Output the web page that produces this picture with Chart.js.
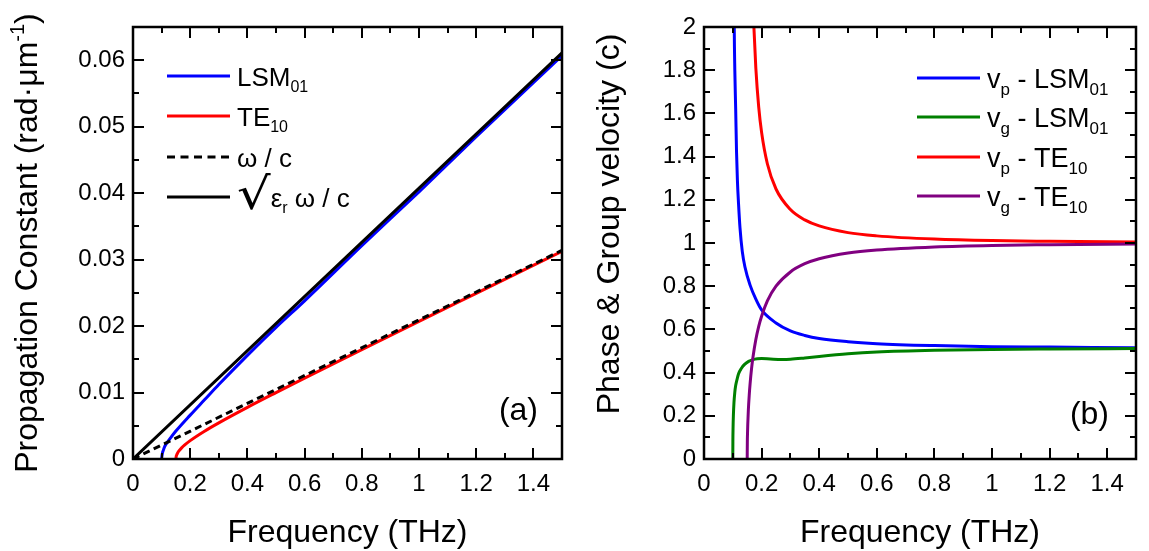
<!DOCTYPE html>
<html>
<head>
<meta charset="utf-8">
<script src="https://cdn.jsdelivr.net/npm/chart.js@4.4.0/dist/chart.umd.min.js"></script>
<style>
  body { margin: 0; background: #fff; width: 1149px; height: 551px; overflow: hidden; position: relative; }
  #chartA { position: absolute; left: 0; top: 0; width: 580px; height: 551px; }
  #chartB { position: absolute; left: 580px; top: 0; width: 569px; height: 551px; }
</style>
</head>
<body>
<canvas id="chartA" width="580" height="551"></canvas>
<canvas id="chartB" width="569" height="551"></canvas>
<script>
    const FONT = '"Liberation Sans", Arial, sans-serif';

    // Frequency axis (THz), same for both panels
    const xTicks = [0, 0.2, 0.4, 0.6, 0.8, 1.0, 1.2, 1.4];
    const xTickLabels = ['0', '0.2', '0.4', '0.6', '0.8', '1', '1.2', '1.4'];
    const xMinor = [0.1, 0.3, 0.5, 0.7, 0.9, 1.1, 1.3];

    // (a) Propagation constant (rad/um)
    const betaTicks = [0, 0.01, 0.02, 0.03, 0.04, 0.05, 0.06];
    const betaTickLabels = ['0', '0.01', '0.02', '0.03', '0.04', '0.05', '0.06'];
    const betaMinor = [0.005, 0.015, 0.025, 0.035, 0.045, 0.055];

    const freqLSM = [0.1, 0.101, 0.103, 0.106, 0.11, 0.12, 0.13, 0.15, 0.2, 0.25, 0.3, 0.4, 0.5, 0.6, 0.8, 1.0, 1.2, 1.5];
    const betaLSM = [0, 0.0004, 0.0009, 0.0013, 0.0018, 0.0025, 0.0031, 0.0042, 0.0066, 0.0089, 0.0112, 0.0156, 0.0198, 0.0238, 0.0321, 0.0402, 0.0485, 0.0607];

    const freqTE = [0.15, 0.151, 0.153, 0.156, 0.16, 0.17, 0.18, 0.2, 0.25, 0.3, 0.4, 0.5, 0.6, 0.8, 1.0, 1.2, 1.5];
    const betaTE = [0, 0.00036, 0.00063, 0.0009, 0.00117, 0.00167, 0.00208, 0.00277, 0.00419, 0.00544, 0.00777, 0.00999, 0.01217, 0.01646, 0.02071, 0.02493, 0.03126];

    const freqAir = [0, 1.5];
    const betaAir = [0, 0.0314];

    const freqDiel = [0, 1.5];
    const betaDiel = [0, 0.0611];

    // (b) Phase & group velocity (units of c)
    const velTicks = [0, 0.2, 0.4, 0.6, 0.8, 1.0, 1.2, 1.4, 1.6, 1.8, 2.0];
    const velTickLabels = ['0', '0.2', '0.4', '0.6', '0.8', '1', '1.2', '1.4', '1.6', '1.8', '2'];
    const velMinor = [0.1, 0.3, 0.5, 0.7, 0.9, 1.1, 1.3, 1.5, 1.7, 1.9];

    const freqVpLSM = [0.103, 0.105, 0.107, 0.11, 0.113, 0.116, 0.12, 0.125, 0.133, 0.142, 0.16, 0.18, 0.2, 0.25, 0.3, 0.35, 0.4, 0.5, 0.6, 0.8, 1.0, 1.2, 1.5];
    const vpLSM = [2.5, 2.0, 1.8, 1.62, 1.42, 1.29, 1.18, 1.07, 0.96, 0.89, 0.805, 0.74, 0.69, 0.63, 0.593, 0.572, 0.558, 0.543, 0.534, 0.525, 0.52, 0.518, 0.515];

    const freqVgLSM = [0.1, 0.1003, 0.101, 0.102, 0.104, 0.107, 0.11, 0.115, 0.12, 0.13, 0.14, 0.155, 0.17, 0.185, 0.2, 0.23, 0.27, 0.3, 0.35, 0.4, 0.5, 0.6, 0.8, 1.0, 1.2, 1.5];
    const vgLSM = [0, 0.08, 0.15, 0.2, 0.26, 0.31, 0.34, 0.37, 0.395, 0.42, 0.437, 0.452, 0.46, 0.464, 0.465, 0.463, 0.461, 0.462, 0.468, 0.475, 0.487, 0.495, 0.503, 0.507, 0.509, 0.511];

    const freqVpTE = [0.165, 0.17, 0.173, 0.18, 0.19, 0.2, 0.22, 0.25, 0.3, 0.35, 0.4, 0.5, 0.6, 0.8, 1.0, 1.2, 1.5];
    const vpTE = [2.4, 2.125, 2.007, 1.809, 1.629, 1.512, 1.367, 1.25, 1.155, 1.107, 1.079, 1.048, 1.033, 1.018, 1.011, 1.008, 1.005];

    const freqVgTE = [0.15, 0.1505, 0.151, 0.152, 0.154, 0.157, 0.16, 0.165, 0.17, 0.18, 0.19, 0.2, 0.22, 0.25, 0.3, 0.35, 0.4, 0.5, 0.6, 0.8, 1.0, 1.2, 1.5];
    const vgTE = [0, 0.081, 0.115, 0.162, 0.227, 0.295, 0.348, 0.417, 0.471, 0.553, 0.614, 0.661, 0.732, 0.8, 0.866, 0.904, 0.927, 0.954, 0.968, 0.982, 0.989, 0.992, 0.995];

    function pts(xs, ys) {
    return xs.map((x, i) => ({ x: x, y: ys[i] }));
}

    function lineSet(label, xs, ys, color, order, dash) {
    return {
    label: label,
    data: pts(xs, ys),
    borderColor: color,
    backgroundColor: color,
    borderWidth: 3,
    borderDash: dash || [],
    pointRadius: 0,
    cubicInterpolationMode: 'monotone',
    order: order
};
}

    // Draw a run of text pieces: [text, size, dy, scaleX, family]
    function drawParts(ctx, parts, x, y, align) {
    let total = 0;
    parts.forEach(p => {
    ctx.font = p[1] + 'px ' + (p[4] || FONT);
    total += ctx.measureText(p[0]).width * (p[3] || 1);
});
    let cx = align === 'center' ? x - total / 2 : (align === 'right' ? x - total : x);
    parts.forEach(p => {
    ctx.font = p[1] + 'px ' + (p[4] || FONT);
    const w = ctx.measureText(p[0]).width * (p[3] || 1);
    ctx.save();
    ctx.translate(cx, y + (p[2] || 0));
    ctx.scale(p[3] || 1, 1);
    ctx.fillText(p[0], 0, 0);
    ctx.restore();
    cx += w;
});
}

    // Frame with inward ticks on all four sides
    function framePlugin(yMajor, yMinor) {
    return {
    id: 'frame',
    afterDatasetsDraw(chart) {
    const { ctx, chartArea: a, scales } = chart;
    const sx = scales.x, sy = scales.y;
    ctx.save();
    ctx.strokeStyle = '#000';
    ctx.lineWidth = 2;
    ctx.beginPath();
    const vTicks = (vals, len) => vals.forEach(v => {
    const px = Math.round(sx.getPixelForValue(v));
    ctx.moveTo(px, a.bottom); ctx.lineTo(px, a.bottom - len);
    ctx.moveTo(px, a.top); ctx.lineTo(px, a.top + len);
});
    const hTicks = (vals, len) => vals.forEach(v => {
    const py = Math.round(sy.getPixelForValue(v));
    ctx.moveTo(a.left, py); ctx.lineTo(a.left + len, py);
    ctx.moveTo(a.right, py); ctx.lineTo(a.right - len, py);
});
    vTicks(xTicks, 11);
    vTicks(xMinor, 6);
    hTicks(yMajor, 11);
    hTicks(yMinor, 6);
    ctx.stroke();
    ctx.lineWidth = 2.5;
    ctx.strokeRect(a.left, a.top, a.right - a.left, a.bottom - a.top);
    ctx.restore();
}
};
}

    function overlayPlugin(draw) {
    return {
    id: 'overlay',
    afterDraw(chart) {
    const ctx = chart.ctx;
    ctx.save();
    ctx.fillStyle = '#000';
    ctx.textBaseline = 'alphabetic';
    ctx.textAlign = 'left';
    draw(chart, ctx);
    ctx.restore();
}
};
}

    function drawLegend(ctx, items, x0, x1, tx, rows) {
    items.forEach((it, i) => {
    const y = rows[i];
    ctx.save();
    ctx.strokeStyle = it.color;
    ctx.lineWidth = 3;
    ctx.setLineDash(it.dash || []);
    ctx.beginPath();
    ctx.moveTo(x0, y);
    ctx.lineTo(x1, y);
    ctx.stroke();
    ctx.restore();
    drawParts(ctx, it.parts, tx, y + 9.5, 'left');
});
}

    function makeScales(yMax, yTicks, yLabels, yWidth) {
    return {
    x: {
    type: 'linear',
    min: 0,
    max: 1.5,
    afterBuildTicks: s => { s.ticks = xTicks.map(v => ({ value: v })); },
    afterFit: s => { s.height = 92; },
    grid: { display: false, drawTicks: false },
    border: { display: false },
    ticks: {
    padding: 11,
    autoSkip: false,
    maxRotation: 0,
    color: '#000',
    font: { size: 24, family: FONT },
    callback: (v, i) => xTickLabels[i]
}
},
    y: {
    type: 'linear',
    min: 0,
    max: yMax,
    afterBuildTicks: s => { s.ticks = yTicks.map(v => ({ value: v })); },
    afterFit: s => { s.width = yWidth; },
    grid: { display: false, drawTicks: false },
    border: { display: false },
    ticks: {
    padding: 8,
    autoSkip: false,
    color: '#000',
    font: { size: 24, family: FONT },
    callback: (v, i) => yLabels[i]
}
}
};
}

    const baseOptions = (scales, padRight) => ({
    responsive: false,
    animation: false,
    layout: { padding: { left: 0, right: padRight, top: 27, bottom: 0 } },
    plugins: { legend: { display: false }, tooltip: { enabled: false } },
    scales: scales
});

    // Panel (a)
    new Chart(document.getElementById('chartA'), {
    type: 'line',
    data: {
    datasets: [
    lineSet('LSM01', freqLSM, betaLSM, '#0000ff', 4),
    lineSet('TE10', freqTE, betaTE, '#ff0000', 3),
    lineSet('w/c', freqAir, betaAir, '#000000', 2, [7, 4.5]),
    lineSet('sqrt(er) w/c', freqDiel, betaDiel, '#000000', 1)
    ]
},
    options: baseOptions(makeScales(0.065, betaTicks, betaTickLabels, 133), 18),
    plugins: [
    framePlugin(betaTicks, betaMinor),
    overlayPlugin((chart, ctx) => {
    const a = chart.chartArea;
    drawLegend(ctx, [
    { color: '#0000ff', parts: [['LSM', 26], ['01', 16, 6.5]] },
    { color: '#ff0000', parts: [['TE', 26], ['10', 16, 6.5]] },
    { color: '#000000', dash: [8, 5.5], parts: [['\u03c9 / c', 26]] },
    { color: '#000000', parts: [['\u221a', 44, 2, 1.2, '"DejaVu Sans", sans-serif'], ['\u03b5', 26], ['r', 16, 6], [' \u03c9 / c', 26]] }
    ], 167, 230, 237, [76, 116, 157, 197]);

    drawParts(ctx, [['(a)', 32]], 538, 420, 'right');
    drawParts(ctx, [['Frequency (THz)', 32]], (a.left + a.right) / 2, 542, 'center');

    ctx.save();
    ctx.translate(37, 243);
    ctx.rotate(-Math.PI / 2);
    drawParts(ctx, [['Propagation Constant (rad\u00b7\u03bcm', 32], ['-1', 20, -13], [')', 32]], 0, 0, 'center');
    ctx.restore();
})
    ]
});

    // Panel (b)
    new Chart(document.getElementById('chartB'), {
    type: 'line',
    data: {
    datasets: [
    lineSet('vp - LSM01', freqVpLSM, vpLSM, '#0000ff', 4),
    lineSet('vg - LSM01', freqVgLSM, vgLSM, '#008000', 3),
    lineSet('vp - TE10', freqVpTE, vpTE, '#ff0000', 2),
    lineSet('vg - TE10', freqVgTE, vgTE, '#800080', 1)
    ]
},
    options: baseOptions(makeScales(2, velTicks, velTickLabels, 124), 13),
    plugins: [
    framePlugin(velTicks, velMinor),
    overlayPlugin((chart, ctx) => {
    const a = chart.chartArea;
    drawLegend(ctx, [
    { color: '#0000ff', parts: [['v', 27], ['p', 17, 7], [' - LSM', 27], ['01', 17, 7]] },
    { color: '#008000', parts: [['v', 27], ['g', 17, 7], [' - LSM', 27], ['01', 17, 7]] },
    { color: '#ff0000', parts: [['v', 27], ['p', 17, 7], [' - TE', 27], ['10', 17, 7]] },
    { color: '#800080', parts: [['v', 27], ['g', 17, 7], [' - TE', 27], ['10', 17, 7]] }
    ], 337, 400, 407, [78, 117, 157, 196]);

    drawParts(ctx, [['(b)', 32]], 529, 424, 'right');
    drawParts(ctx, [['Frequency (THz)', 32]], (a.left + a.right) / 2, 542, 'center');

    ctx.save();
    ctx.translate(39, 224);
    ctx.rotate(-Math.PI / 2);
    drawParts(ctx, [['Phase & Group velocity (c)', 32]], 0, 0, 'center');
    ctx.restore();
})
    ]
});
</script>
</body>
</html>
